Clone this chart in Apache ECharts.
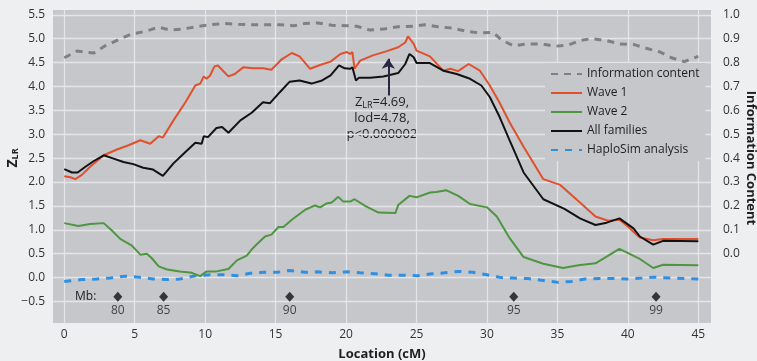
<!DOCTYPE html>
<html>
<head>
<meta charset="utf-8">
<script src="https://cdn.jsdelivr.net/npm/echarts@6/dist/echarts.min.js"></script>
<style>
  html, body { margin: 0; padding: 0; background: #eeeff1; }
  #chart { width: 757px; height: 361px; }
</style>
</head>
<body>
<div id="chart"></div>
<script>
// all series as [cM, value]; info content is on the right axis (0..1)
const infoContent = [
  [0, 0.820], [0.9, 0.848], [2.1, 0.840], [2.9, 0.870], [3.85, 0.896], [4.8, 0.920],
  [5.7, 0.930], [6.7, 0.948], [7.5, 0.936], [8.35, 0.940], [9.4, 0.950], [10.35, 0.958],
  [11.4, 0.964], [12.35, 0.960], [13.3, 0.958], [14.4, 0.958], [15.3, 0.958], [16.3, 0.954],
  [17.1, 0.964], [18.0, 0.966], [19.0, 0.956], [20.05, 0.954], [20.75, 0.952], [21.7, 0.936],
  [22.65, 0.940], [23.7, 0.950], [24.8, 0.952], [25.6, 0.958], [26.5, 0.950], [27.6, 0.944],
  [28.6, 0.930], [29.5, 0.924], [30.45, 0.926], [31.05, 0.894], [31.9, 0.870], [32.8, 0.878],
  [33.9, 0.878], [34.8, 0.868], [35.8, 0.874], [36.6, 0.892], [37.4, 0.900], [38.5, 0.892],
  [39.4, 0.878], [40.4, 0.876], [41.3, 0.860], [42.3, 0.844], [43.1, 0.820], [44.0, 0.804],
  [45.0, 0.826]
]

const wave1 = [
  [0, 2.12], [0.43, 2.10], [0.78, 2.06], [1.25, 2.15], [1.84, 2.32], [2.8, 2.56], [3.74, 2.68],
  [4.56, 2.77], [5.4, 2.875], [6.1, 2.80], [6.7, 2.96], [7.0, 2.93], [7.75, 3.29], [8.6, 3.67],
  [9.3, 4.02], [9.65, 4.06], [9.9, 4.21], [10.1, 4.16], [10.35, 4.23], [10.66, 4.42], [10.9, 4.44],
  [11.65, 4.21], [12.1, 4.26], [12.7, 4.40], [13.4, 4.38], [14.1, 4.38], [14.7, 4.35], [15.4, 4.56],
  [16.15, 4.70], [16.7, 4.63], [17.45, 4.37], [18.15, 4.45], [18.9, 4.52], [19.6, 4.68], [20.05, 4.72],
  [20.3, 4.68], [20.45, 4.72], [20.6, 4.37], [21.0, 4.54], [21.9, 4.65], [22.9, 4.74], [23.7, 4.82],
  [24.2, 4.92], [24.4, 5.05], [24.8, 4.89], [25.0, 4.75], [25.95, 4.63], [26.9, 4.33], [27.4, 4.37],
  [27.95, 4.32], [28.7, 4.47], [29.5, 4.33], [30.2, 4.02], [30.9, 3.66], [31.6, 3.25], [32.6, 2.74],
  [34.0, 2.06], [35.2, 1.94], [36.6, 1.57], [37.7, 1.28], [38.6, 1.19], [39.4, 1.21], [40.0, 1.07],
  [40.6, 0.90], [40.85, 0.84], [41.8, 0.78], [42.5, 0.81], [45, 0.81]
]

const wave2 = [
  [0, 1.14], [1.0, 1.08], [1.84, 1.12], [2.8, 1.14], [3.4, 0.98], [3.97, 0.81], [4.8, 0.67],
  [5.4, 0.48], [5.86, 0.50], [6.2, 0.41], [6.7, 0.235], [7.3, 0.17], [8.2, 0.13], [9.06, 0.10],
  [9.65, 0.03], [10.1, 0.13], [10.8, 0.13], [11.65, 0.18], [12.25, 0.36], [12.95, 0.46], [13.4, 0.62],
  [13.7, 0.71], [14.25, 0.86], [14.7, 0.90], [15.2, 1.06], [15.55, 1.06], [16.15, 1.21], [17.1, 1.42],
  [17.8, 1.51], [18.15, 1.47], [18.6, 1.55], [18.98, 1.57], [19.45, 1.69], [19.8, 1.59], [20.3, 1.59],
  [20.6, 1.64], [21.35, 1.50], [22.3, 1.36], [23.5, 1.35], [23.7, 1.52], [24.5, 1.71], [25.0, 1.68],
  [25.96, 1.78], [26.4, 1.79], [27.1, 1.83], [27.96, 1.71], [28.8, 1.54], [30.0, 1.47], [30.7, 1.28],
  [31.6, 0.83], [32.6, 0.43], [34.0, 0.29], [35.4, 0.20], [36.5, 0.26], [37.7, 0.30], [39.4, 0.60],
  [40.85, 0.39], [41.8, 0.20], [42.5, 0.27], [45, 0.26]
]

const allFamilies = [
  [0, 2.27], [0.55, 2.20], [0.95, 2.20], [1.5, 2.32], [2.1, 2.44], [2.8, 2.56], [3.5, 2.49],
  [4.2, 2.42], [4.9, 2.375], [5.6, 2.30], [6.3, 2.26], [7.0, 2.13], [7.75, 2.39], [8.6, 2.63],
  [9.3, 2.82], [9.75, 2.80], [9.9, 2.96], [10.2, 2.94], [10.8, 3.13], [11.2, 3.15], [11.65, 3.03],
  [12.5, 3.29], [13.3, 3.45], [14.1, 3.67], [14.6, 3.65], [15.3, 3.88], [16.0, 4.10], [16.7, 4.125],
  [17.55, 4.06], [18.3, 4.125], [18.9, 4.23], [19.5, 4.44], [19.9, 4.38], [20.3, 4.37], [20.45, 4.40],
  [20.7, 4.125], [20.9, 4.18], [21.7, 4.18], [22.65, 4.21], [23.7, 4.28], [24.2, 4.47], [24.5, 4.68],
  [24.8, 4.61], [25.0, 4.49], [25.95, 4.49], [26.9, 4.33], [27.85, 4.26], [28.8, 4.16], [29.6, 4.02],
  [30.2, 3.78], [30.9, 3.36], [31.6, 2.875], [32.6, 2.20], [34.0, 1.64], [35.5, 1.44], [36.6, 1.24],
  [37.7, 1.10], [38.5, 1.15], [39.4, 1.24], [40.4, 1.03], [40.85, 0.86], [41.8, 0.69], [42.5, 0.77],
  [45, 0.76]
]

const haploSim = [
  [0, -0.08], [1.25, -0.04], [2.3, -0.03], [3.26, -0.01], [4.3, 0.03], [5.27, 0.01], [6.3, -0.03],
  [7.3, -0.04], [8.2, -0.03], [9.3, 0.04], [10.35, 0.06], [11.3, 0.06], [12.25, 0.04], [13.2, 0.09],
  [14.1, 0.11], [15.1, 0.11], [16.0, 0.15], [17.1, 0.11], [18.0, 0.12], [19.0, 0.10], [20.05, 0.12],
  [21.0, 0.10], [22.06, 0.08], [23.0, 0.05], [24.06, 0.05], [25.1, 0.04], [26.1, 0.08], [27.0, 0.10],
  [27.96, 0.13], [29.0, 0.11], [30.0, 0.06], [31.0, 0.00], [31.9, -0.01], [32.9, -0.02], [34.0, -0.06],
  [35.06, -0.10], [36.0, -0.08], [36.95, -0.03], [38.0, -0.02], [39.1, -0.02], [40.0, -0.03],
  [41.0, -0.01], [41.9, 0.01], [43.0, -0.01], [44.0, -0.02], [45, -0.03]
]

// marker positions (cM) and their physical positions (Mb)
const mbX = [3.8, 7.05, 16.0, 31.9, 42.0]
const mbLabels = ['80', '85', '90', '95', '99']
const mbRow = -0.4

// peak annotation arrow: x, from, to
const peakArrow = [23.0, 3.81, 4.58]

const xTicks = [0, 5, 10, 15, 20, 25, 30, 35, 40, 45]
const yTicks = [-0.5, 0, 0.5, 1, 1.5, 2, 2.5, 3, 3.5, 4, 4.5, 5, 5.5]
const infoTicks = [0, 0.1, 0.2, 0.3, 0.4, 0.5, 0.6, 0.7, 0.8, 0.9, 1.0]

const FONT = '"Open Sans", "Noto Sans", sans-serif'
const PLOT_BG = '#c6c7cb'
const GRID_LINE = '#e4e5e8'
const fmt1 = v => v.toFixed(1).replace('-', '\u2212')

const chart = echarts.init(document.getElementById('chart'))

chart.setOption({
  backgroundColor: '#eeeff1',
  animation: false,
  textStyle: { fontFamily: FONT },
  grid: {
    left: 53, right: 46, top: 10, bottom: 38,
    outerBoundsMode: 'none',
    show: true, backgroundColor: PLOT_BG, borderWidth: 0,
  },
  legend: {
    orient: 'vertical',
    left: 545, top: 63,
    padding: [5, 6, 5, 5],
    backgroundColor: PLOT_BG,
    itemWidth: 31, itemHeight: 12, itemGap: 7,
    itemStyle: { opacity: 0 },
    textStyle: { fontFamily: FONT, fontSize: 12, color: '#1e1e1e', lineHeight: 12 },
    data: ['Information content', 'Wave 1', 'Wave 2', 'All families', 'HaploSim analysis'],
  },
  xAxis: {
    type: 'value', min: -0.8, max: 45.9,
    name: 'Location (cM)', nameLocation: 'middle', nameGap: 25,
    nameTextStyle: { fontFamily: FONT, fontSize: 13, fontWeight: 'bold', color: '#1e1e1e' },
    axisLine: { show: false },
    axisTick: { show: false, customValues: xTicks },
    axisLabel: { customValues: xTicks, margin: 6, fontSize: 12, color: '#333' },
    splitLine: { show: true, lineStyle: { color: GRID_LINE, width: 1.3 } },
  },
  yAxis: [
    {
      type: 'value', min: -0.95, max: 5.6,
      axisLine: { show: false },
      axisTick: { show: false, customValues: yTicks },
      axisLabel: { customValues: yTicks, formatter: fmt1, margin: 8, fontSize: 12, color: '#333' },
      splitLine: { show: true, lineStyle: { color: GRID_LINE, width: 1.3 } },
    },
    {
      type: 'value', min: -0.29, max: 1.02, position: 'right',
      axisLine: { show: false },
      axisTick: { show: false, customValues: infoTicks },
      axisLabel: { customValues: infoTicks, formatter: fmt1, margin: 12, fontSize: 12, color: '#333' },
      splitLine: { show: false },
    },
  ],
  series: [
    {
      name: 'Information content', type: 'line', data: infoContent, yAxisIndex: 1,
      symbol: 'none', z: 2,
      lineStyle: { color: '#7f8084', width: 3, type: [7, 6] },
      itemStyle: { color: '#7f8084' },
    },
    {
      name: 'HaploSim analysis', type: 'line', data: haploSim,
      symbol: 'none', z: 2,
      lineStyle: { color: '#2f8fe2', width: 3, type: [7, 7] },
      itemStyle: { color: '#2f8fe2' },
    },
    {
      name: 'Wave 2', type: 'line', data: wave2,
      symbol: 'none', z: 3,
      lineStyle: { color: '#4e9640', width: 2 },
      itemStyle: { color: '#4e9640' },
    },
    {
      name: 'Wave 1', type: 'line', data: wave1,
      symbol: 'none', z: 3,
      lineStyle: { color: '#e0502c', width: 2 },
      itemStyle: { color: '#e0502c' },
    },
    {
      name: 'All families', type: 'line', data: allFamilies,
      symbol: 'none', z: 4,
      lineStyle: { color: '#121212', width: 2 },
      itemStyle: { color: '#121212' },
      markLine: {
        silent: true,
        symbol: ['none', 'arrow'], symbolSize: 10,
        label: { show: false },
        lineStyle: { color: '#2a2540', width: 2, type: 'solid' },
        data: [[
          { coord: [peakArrow[0], peakArrow[1]] },
          { coord: [peakArrow[0], peakArrow[2]] },
        ]],
      },
    },
    {
      name: 'Mb', type: 'scatter', z: 5,
      data: mbX.map(x => [x, mbRow]),
      symbol: 'diamond', symbolSize: [9, 10],
      itemStyle: { color: '#111' },
      label: {
        show: true, position: 'bottom', distance: 3,
        formatter: p => mbLabels[p.dataIndex],
        fontFamily: FONT, fontSize: 12, color: '#222',
      },
    },
  ],
  graphic: [
    {
      type: 'text', x: 75, y: 297,
      style: { text: 'Mb:', font: '12px ' + FONT, fill: '#222', textVerticalAlign: 'middle' },
    },
    {
      type: 'text', x: 382, y: 94,
      style: {
        text: '{t|Z}{s|LR}{t|=4.69,}\n{t|lod=4.78,}\n{t|p<0.000002}',
        textAlign: 'center',
        rich: {
          t: { fontFamily: FONT, fontSize: 13, lineHeight: 16, fill: '#222' },
          s: { fontFamily: FONT, fontSize: 9, lineHeight: 16, fill: '#222', verticalAlign: 'bottom', padding: [5, 0, 0, 0] },
        },
      },
    },
    {
      type: 'text', x: 13, y: 158, rotation: Math.PI / 2,
      style: {
        text: '{t|Z}{s|LR}',
        textAlign: 'center', textVerticalAlign: 'middle',
        rich: {
          t: { fontFamily: FONT, fontSize: 14, fontWeight: 'bold', fill: '#1e1e1e' },
          s: { fontFamily: FONT, fontSize: 9, fontWeight: 'bold', fill: '#1e1e1e', verticalAlign: 'bottom', padding: [5, 0, 0, 0] },
        },
      },
    },
    {
      type: 'text', x: 751, y: 158, rotation: -Math.PI / 2,
      style: {
        text: 'Information Content',
        font: 'bold 13px ' + FONT, fill: '#1e1e1e',
        textAlign: 'center', textVerticalAlign: 'middle',
      },
    },
  ],
})
</script>
</body>
</html>
